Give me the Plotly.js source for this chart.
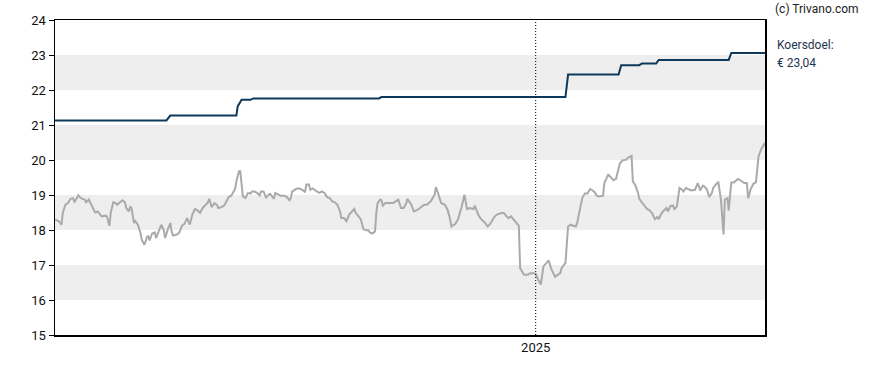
<!DOCTYPE html>
<html>
<head>
<meta charset="utf-8">
<script src="https://cdn.plot.ly/plotly-3.0.1.min.js"></script>
<style>html,body{margin:0;padding:0;background:#fff;}#chart{width:888px;height:370px;}</style>
</head>
<body>
<div id="chart"></div>
<script>
// Koersdoel (target price) series
const targetDates = ['2023-12-27','2024-03-22','2024-03-25','2024-05-15','2024-05-16','2024-05-19','2024-05-26','2024-05-28','2024-09-02','2024-09-04','2025-01-24','2025-01-26','2025-03-06','2025-03-08','2025-03-22','2025-03-24','2025-04-04','2025-04-06','2025-05-30','2025-06-01','2025-06-27'];
const targetValues = [21.13,21.13,21.27,21.27,21.53,21.72,21.72,21.76,21.76,21.80,21.80,22.44,22.44,22.71,22.71,22.76,22.76,22.86,22.86,23.06,23.06];

// Share price series
const priceDates = [
'2023-12-27','2023-12-30','2024-01-01','2024-01-02','2024-01-04','2024-01-06','2024-01-08','2024-01-10','2024-01-11','2024-01-14','2024-01-15','2024-01-17','2024-01-19','2024-01-20','2024-01-22','2024-01-23','2024-01-26','2024-01-27','2024-01-29','2024-01-31',
'2024-02-01','2024-02-04','2024-02-05','2024-02-07','2024-02-08','2024-02-10','2024-02-12','2024-02-13','2024-02-15','2024-02-17','2024-02-19','2024-02-20','2024-02-22','2024-02-23','2024-02-24','2024-02-26','2024-02-27','2024-02-29',
'2024-03-02','2024-03-03','2024-03-05','2024-03-07','2024-03-08','2024-03-09','2024-03-11','2024-03-13','2024-03-14','2024-03-16','2024-03-18','2024-03-20','2024-03-21','2024-03-23','2024-03-25','2024-03-26','2024-03-27','2024-03-30',
'2024-04-01','2024-04-03','2024-04-05','2024-04-07','2024-04-08','2024-04-09','2024-04-11','2024-04-13','2024-04-15','2024-04-17','2024-04-19','2024-04-21','2024-04-23','2024-04-24','2024-04-25','2024-04-26','2024-04-28','2024-04-30',
'2024-05-01','2024-05-04','2024-05-06','2024-05-08','2024-05-09','2024-05-11','2024-05-14','2024-05-15','2024-05-17','2024-05-18','2024-05-20','2024-05-22','2024-05-24','2024-05-26','2024-05-27','2024-05-29','2024-05-31',
'2024-06-02','2024-06-03','2024-06-05','2024-06-07','2024-06-08','2024-06-10','2024-06-12','2024-06-13','2024-06-14','2024-06-16','2024-06-18','2024-06-21','2024-06-23','2024-06-25','2024-06-26','2024-06-27','2024-06-30',
'2024-07-02','2024-07-05','2024-07-07','2024-07-08','2024-07-10','2024-07-11','2024-07-13','2024-07-14','2024-07-16','2024-07-18','2024-07-20','2024-07-22','2024-07-24','2024-07-26','2024-07-28','2024-07-30',
'2024-08-01','2024-08-03','2024-08-04','2024-08-06','2024-08-08','2024-08-10','2024-08-12','2024-08-14','2024-08-15','2024-08-17','2024-08-19','2024-08-21','2024-08-23','2024-08-25','2024-08-26','2024-08-28','2024-08-30','2024-08-31',
'2024-09-01','2024-09-03','2024-09-04','2024-09-05','2024-09-07','2024-09-08','2024-09-10','2024-09-13','2024-09-15','2024-09-17','2024-09-19','2024-09-21','2024-09-23','2024-09-24','2024-09-27','2024-09-29',
'2024-10-02','2024-10-05','2024-10-07','2024-10-09','2024-10-12','2024-10-15','2024-10-16','2024-10-18','2024-10-20','2024-10-23','2024-10-25','2024-10-27','2024-10-28','2024-10-31',
'2024-11-02','2024-11-05','2024-11-07','2024-11-09','2024-11-11','2024-11-14','2024-11-15','2024-11-18','2024-11-20','2024-11-23','2024-11-25','2024-11-27','2024-11-30',
'2024-12-02','2024-12-06','2024-12-08','2024-12-09','2024-12-11','2024-12-13','2024-12-15','2024-12-17','2024-12-19','2024-12-20','2024-12-23','2024-12-26','2024-12-27','2024-12-30',
'2025-01-01','2025-01-03','2025-01-05','2025-01-07','2025-01-09','2025-01-11','2025-01-13','2025-01-16','2025-01-18','2025-01-20','2025-01-21','2025-01-24','2025-01-26','2025-01-28','2025-01-30',
'2025-02-01','2025-02-02','2025-02-04','2025-02-06','2025-02-08','2025-02-10','2025-02-12','2025-02-14','2025-02-16','2025-02-17','2025-02-19','2025-02-22','2025-02-23','2025-02-26','2025-02-28',
'2025-03-02','2025-03-04','2025-03-06','2025-03-07','2025-03-09','2025-03-12','2025-03-13','2025-03-15','2025-03-16','2025-03-17','2025-03-19','2025-03-21','2025-03-22','2025-03-24','2025-03-26','2025-03-28','2025-03-30',
'2025-04-01','2025-04-03','2025-04-05','2025-04-06','2025-04-08','2025-04-10','2025-04-12','2025-04-13','2025-04-15','2025-04-17','2025-04-18','2025-04-20','2025-04-22','2025-04-24','2025-04-25','2025-04-27','2025-04-29',
'2025-05-01','2025-05-04','2025-05-06','2025-05-07','2025-05-08','2025-05-10','2025-05-11','2025-05-13','2025-05-15','2025-05-17','2025-05-18','2025-05-21','2025-05-22','2025-05-24','2025-05-25','2025-05-26','2025-05-27','2025-05-29','2025-05-30',
'2025-06-01','2025-06-03','2025-06-04','2025-06-06','2025-06-08','2025-06-10','2025-06-11','2025-06-13','2025-06-14','2025-06-16','2025-06-18','2025-06-20','2025-06-22','2025-06-24','2025-06-27'];
const priceValues = [
18.30,18.25,18.15,18.49,18.72,18.77,18.89,18.91,18.79,18.99,18.94,18.89,18.87,18.79,18.87,18.80,18.60,18.50,18.53,18.44,
18.39,18.41,18.39,18.12,18.49,18.79,18.77,18.72,18.79,18.85,18.79,18.63,18.53,18.67,18.63,18.20,18.25,18.15,
17.91,17.72,17.58,17.80,17.82,17.70,17.90,17.93,17.77,17.96,18.15,17.99,17.77,18.01,18.20,17.96,17.84,17.87,
17.93,18.12,18.18,18.34,18.22,18.15,18.44,18.60,18.56,18.49,18.63,18.70,18.79,18.89,18.79,18.65,18.77,18.72,
18.63,18.66,18.72,18.85,18.94,18.98,19.17,19.39,19.68,19.68,18.96,18.91,19.06,19.04,19.10,19.10,19.06,
18.99,19.10,19.10,18.91,18.98,19.03,18.94,18.89,19.06,19.03,18.98,18.98,18.94,18.85,18.91,19.10,19.17,
19.19,19.15,19.08,19.30,19.30,19.15,19.19,19.15,19.10,19.06,19.10,19.06,18.94,18.91,18.82,18.79,
18.72,18.53,18.34,18.34,18.25,18.44,18.53,18.60,18.49,18.39,18.31,18.03,17.99,17.99,17.93,17.90,17.96,18.49,
18.77,18.87,18.85,18.70,18.77,18.77,18.77,18.77,18.82,18.87,18.63,18.63,18.75,18.89,18.72,18.53,
18.58,18.68,18.72,18.72,18.82,19.01,19.23,19.01,18.77,18.72,18.58,18.30,18.10,18.18,
18.30,18.68,19.01,18.60,18.63,18.60,18.70,18.41,18.31,18.20,18.10,18.18,18.37,
18.44,18.49,18.47,18.41,18.34,18.39,18.30,18.20,18.12,16.91,16.72,16.72,16.75,16.77,
16.75,16.58,16.44,16.96,17.06,17.13,16.89,16.66,16.72,16.77,16.91,17.06,18.10,18.15,18.12,
18.10,18.20,18.58,18.92,19.04,19.04,19.17,19.13,19.06,18.98,18.96,18.98,19.34,19.58,19.51,
19.42,19.46,19.74,19.90,19.99,20.01,20.06,20.10,20.12,19.39,19.27,19.06,18.89,18.79,18.68,18.60,18.56,
18.47,18.31,18.37,18.31,18.47,18.56,18.63,18.53,18.68,18.70,18.58,18.68,19.20,19.15,19.10,19.20,19.17,
19.13,19.15,19.34,19.25,19.13,19.27,19.25,19.17,18.94,19.06,19.20,19.34,19.36,18.87,18.30,17.87,18.87,18.91,18.56,
19.36,19.36,19.39,19.46,19.42,19.36,19.34,19.34,18.91,19.17,19.32,19.36,20.10,20.30,20.49];

const yTickValues = [15,16,17,18,19,20,21,22,23,24];
const bandRanges = [[16,17],[18,19],[20,21],[22,23]];
const xTickValues = ['2025-01-01'];
const xTickLabels = ['2025'];
const xRange = ['2023-12-27','2025-06-27'];
const yRange = [15,24];
const targetLabel = 'Koersdoel:';
const targetText = '€ 23,04';
const creditText = '(c) Trivano.com';

const shapes = bandRanges.map(r => ({
  type:'rect', xref:'paper', yref:'y', x0:0, x1:1, y0:r[0], y1:r[1],
  fillcolor:'#eeeeee', line:{width:0}, layer:'below'
}));
shapes.push({
  type:'line', xref:'x', yref:'paper', x0:xTickValues[0], x1:xTickValues[0], y0:0, y1:1,
  line:{color:'#000', width:1, dash:'1px,2px'}, layer:'above'
});

const traces = [
  {x:priceDates, y:priceValues, type:'scatter', mode:'lines',
   line:{color:'#aaaaaa', width:2}, hoverinfo:'skip'},
  {x:targetDates, y:targetValues, type:'scatter', mode:'lines',
   line:{color:'#0d3a5c', width:2}, hoverinfo:'skip'}
];

const layout = {
  width:888, height:370,
  margin:{l:55, r:123, t:20, b:35},
  paper_bgcolor:'#fff', plot_bgcolor:'rgba(0,0,0,0)',
  showlegend:false,
  font:{family:'Roboto, Arial, sans-serif', size:13, color:'#111'},
  xaxis:{type:'date', range:xRange, tickvals:xTickValues, ticktext:xTickLabels,
         showgrid:false, zeroline:false, showline:true, mirror:true, linecolor:'#000', linewidth:1.5,
         ticks:'', tickfont:{size:13, color:'#111'}},
  yaxis:{range:yRange, tickvals:yTickValues, showgrid:false, zeroline:false,
         showline:true, mirror:true, linecolor:'#000', linewidth:1.5,
         ticks:'outside', ticklen:5, tickcolor:'#000', tickfont:{size:13, color:'#111'}},
  shapes:shapes,
  annotations:[
    {xref:'paper', yref:'paper', x:1.011, y:1.035, xanchor:'left', yanchor:'middle', showarrow:false,
     text:creditText, font:{size:12, color:'#222'}},
    {xref:'paper', yref:'paper', x:1.014, y:0.921, xanchor:'left', yanchor:'middle', showarrow:false,
     text:targetLabel, font:{size:12, color:'#1e3550'}},
    {xref:'paper', yref:'paper', x:1.014, y:0.863, xanchor:'left', yanchor:'middle', showarrow:false,
     text:targetText, font:{size:12, color:'#1e3550'}}
  ]
};

Plotly.newPlot('chart', traces, layout, {staticPlot:true, displayModeBar:false});
</script>
</body>
</html>
